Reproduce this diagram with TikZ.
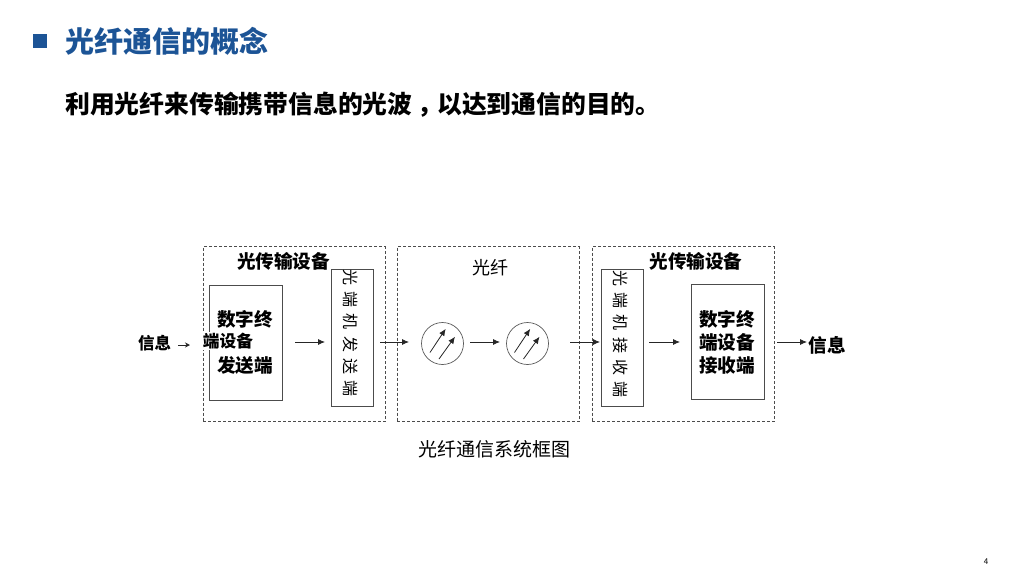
\documentclass[tikz,border=0pt]{standalone}
\usepackage{fontspec}
\setmainfont{Noto Sans CJK SC}
\usetikzlibrary{arrows.meta}
\definecolor{titleblue}{RGB}{28,84,150}
\newcommand\sgap{\hspace{6.3pt}}
\tikzset{
devbox/.style={draw=black!70,dash pattern=on 3pt off 2pt,line width=0.7pt,minimum width=182pt,minimum height=175pt},
termbox/.style={draw=black!70,line width=0.8pt,minimum width=73pt,minimum height=115pt},
optbox/.style={draw=black!70,line width=0.8pt,minimum width=42.5pt,minimum height=137pt},
ampl/.style={draw=black!65,circle,line width=0.7pt,minimum size=42pt,inner sep=0pt},
boldtxt/.style={font=\bfseries\fontsize{18.6}{22}\selectfont,inner sep=0pt},
thintxt/.style={font=\fontsize{18}{22}\selectfont,inner sep=0pt},
sidetxt/.style={font=\fontsize{16}{20}\selectfont,inner sep=0pt,rotate=-90},
flow/.style={-{Latex[length=7pt,width=6pt]},black!85,line width=0.8pt}
}
\begin{document}
\begin{tikzpicture}[x=1pt,y=-1pt]
\useasboundingbox (0,0) rectangle (1024,576);
\node[fill=titleblue,minimum size=14pt,inner sep=0pt] (mark) at (40,41) {};
\node[anchor=west,inner sep=0pt,text=titleblue,font=\bfseries\fontsize{29}{32}\selectfont] (title) at (65,41) {光纤通信的概念};
\node[anchor=west,inner sep=0pt,font=\bfseries\fontsize{24.8}{30}\selectfont] (intro) at (65,105) {利用光纤来传输携带信息的光波\kern5pt ，\kern-5pt 以达到通信的目的。};
% dashed groups
\node[devbox] (sendgrp) at (294,334) {};
\node[devbox] (fibgrp) at (488,334) {};
\node[devbox] (recvgrp) at (683,334) {};
\node[boldtxt] (sendlbl) at (283.5,261) {光传输设备};
\node[thintxt] (fiblbl) at (490,268) {光纤};
\node[boldtxt] (recvlbl) at (696,261) {光传输设备};
% boxes
\node[termbox] (sendterm) at (246,343) {};
\node[boldtxt,font=\bfseries\fontsize{16.7}{20}\selectfont,fill=white,inner sep=1pt] (sendt2) at (228,341) {端设备};
\node[boldtxt] (sendt1) at (245,319) {数字终};
\node[boldtxt] (sendt3) at (245,365) {发送端};
\node[optbox] (sendopt) at (352.2,338) {};
\node[sidetxt] (sendtxt) at (351,333) {光\sgap 端\sgap 机\sgap 发\sgap 送\sgap 端};
\node[optbox] (recvopt) at (622.2,338) {};
\node[sidetxt] (recvtxt) at (621,334) {光\sgap 端\sgap 机\sgap 接\sgap 收\sgap 端};
\node[termbox] (recvterm) at (728,342) {};
\node[boldtxt] (recvt1) at (727,319) {数字终};
\node[boldtxt] (recvt2) at (727,342) {端设备};
\node[boldtxt] (recvt3) at (727,365) {接收端};
\node[ampl] (ampa) at (442.5,343.5) {};
\node[ampl] (ampb) at (527.5,343.5) {};
% arrows inside amplifiers
\draw[flow] (ampa.center)++(-12.5,9) coordinate (a1) -- ++(15.7,-23.7) coordinate (a2);
\draw[flow] (ampa.center)++(-3.5,15.5) coordinate (a3) -- ++(16,-22.3) coordinate (a4);
\draw[flow] (ampb.center)++(-13,9) coordinate (b1) -- ++(15.7,-23.7) coordinate (b2);
\draw[flow] (ampb.center)++(-4,15.5) coordinate (b3) -- ++(16,-22.3) coordinate (b4);
% signal path
\node[inner sep=0pt,font=\bfseries\fontsize{16.5}{18}\selectfont] (infoin) at (154.5,343) {信息};
\node[boldtxt] (infoout) at (827,345) {信息};
\coordinate (p1) at (178,345); \coordinate (p2) at (190,345);
\coordinate (p3) at (295,342); \coordinate (p4) at (325,342);
\coordinate (p5) at (380,342); \coordinate (p6) at (409,342);
\coordinate (p7) at (470,342); \coordinate (p8) at (500,342);
\coordinate (p9) at (570,342); \coordinate (p10) at (600,342);
\coordinate (p11) at (649,342); \coordinate (p12) at (680,342);
\coordinate (p13) at (777,342); \coordinate (p14) at (807,342);
\draw[flow,-{Stealth[length=5pt,width=5pt]}] (p1)--(p2);
\draw[flow] (p3)--(p4);
\draw[flow] (p5)--(p6);
\draw[flow] (p7)--(p8);
\draw[flow] (p9)--(p10);
\draw[flow] (p11)--(p12);
\draw[flow] (p13)--(p14);
\node[inner sep=0pt,font=\fontsize{19}{22}\selectfont] (caption) at (494,449) {光纤通信系统框图};
\node[inner sep=0pt,font=\fontsize{8}{10}\selectfont] (pageno) at (986,562) {4};
\end{tikzpicture}
\end{document}
